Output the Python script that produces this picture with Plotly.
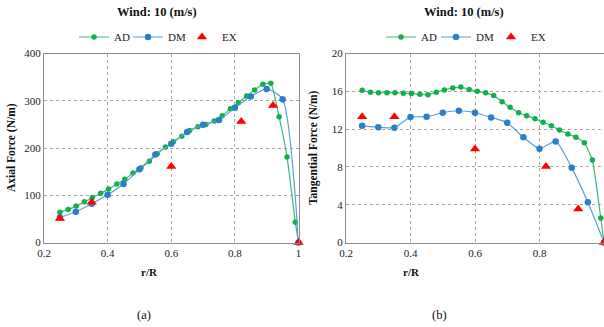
import plotly.graph_objects as go

# ---------------- data ----------------
r_ad = [0.25, 0.276, 0.301, 0.327, 0.352, 0.378, 0.403, 0.429, 0.454, 0.48,
        0.505, 0.531, 0.556, 0.582, 0.607, 0.633, 0.658, 0.684, 0.709, 0.735,
        0.76, 0.786, 0.811, 0.837, 0.862, 0.888, 0.913, 0.939, 0.964, 0.99, 1.0]
axial_ad = [64, 70, 77, 86, 95, 104, 113, 124, 134, 147,
            158, 172, 188, 202, 213, 225, 237, 245, 250, 257,
            268, 283, 296, 310, 323, 335, 337, 266, 181, 43, 0]
tang_ad = [16.1, 15.9, 15.85, 15.85, 15.85, 15.8, 15.77, 15.7, 15.63, 15.9,
           16.15, 16.35, 16.45, 16.2, 16.0, 15.84, 15.56, 14.9, 14.3, 13.73,
           13.42, 13.1, 12.72, 12.36, 11.9, 11.48, 11.13, 10.56, 8.73, 2.6, 0]

r_dm = [0.25, 0.30, 0.35, 0.40, 0.45, 0.50, 0.55, 0.60, 0.65, 0.70,
        0.75, 0.80, 0.85, 0.90, 0.95, 1.0]
axial_dm = [53, 65, 82, 101, 124, 155, 186, 209, 234, 249,
            259, 285, 309, 325, 303, 0]
tang_dm = [12.35, 12.2, 12.15, 13.27, 13.3, 13.73, 13.94, 13.73, 13.24, 12.67,
           11.13, 9.93, 10.7, 7.9, 4.25, 0]

r_ex_a = [0.25, 0.35, 0.60, 0.82, 0.92, 1.0]
axial_ex = [51, 85, 161, 256, 290, 0]
r_ex_t = [0.25, 0.35, 0.60, 0.82, 0.92, 1.0]
tang_ex = [13.3, 13.3, 9.9, 8.05, 3.55, 0]

x_ticks = [0.2, 0.4, 0.6, 0.8, 1.0]
x_tick_text = ["0.2", "0.4", "0.6", "0.8", "1"]
axial_ticks = [0, 100, 200, 300, 400]
tang_ticks = [0, 4, 8, 12, 16, 20]

title_text = "Wind: 10 (m/s)"
# --------------------------------------

W, H = 604, 327
def px(x):
    return x / W
def py(y):
    return 1 - y / H

FONT = "Liberation Serif, Times New Roman, DejaVu Serif, serif"
GREEN_LINE = "#3cb878"
GREEN = "#12b04a"
BLUE = "#2a7fc9"
BLUE_LINE = "#5aa0d8"
RED = "#ff0000"

fig = go.Figure()

def add_set(xa, ya, leg, r1, v1, r2, v2, r3, v3):
    fig.add_trace(go.Scatter(x=r1, y=v1, name="AD", mode="lines+markers",
                             line=dict(color=GREEN_LINE, width=1.2, shape="spline", smoothing=0.4),
                             marker=dict(color=GREEN, size=5.5, symbol="circle"),
                             xaxis=xa, yaxis=ya, legend=leg, cliponaxis=False))
    fig.add_trace(go.Scatter(x=r2, y=v2, name="DM", mode="lines+markers",
                             line=dict(color=BLUE_LINE, width=1.2, shape="spline", smoothing=0.6),
                             marker=dict(color=BLUE, size=6.5, symbol="circle"),
                             xaxis=xa, yaxis=ya, legend=leg, cliponaxis=False))
    fig.add_trace(go.Scatter(x=r3, y=v3, name="EX", mode="markers",
                             marker=dict(color=RED, size=9, symbol="triangle-up"),
                             xaxis=xa, yaxis=ya, legend=leg, cliponaxis=False))

add_set("x", "y", "legend", r_ad, axial_ad, r_dm, axial_dm, r_ex_a, axial_ex)
add_set("x2", "y2", "legend2", r_ad, tang_ad, r_dm, tang_dm, r_ex_t, tang_ex)

y_dom = [py(242.5), py(53.5)]
axis_common = dict(showline=True, mirror=True, linecolor="#8c8c8c", linewidth=1,
                   showgrid=True, gridcolor="#a8a8a8", griddash="3px,3px", gridwidth=1,
                   zeroline=False, ticks="", automargin=False,
                   tickfont=dict(family=FONT, size=11, color="#222"))

fig.update_layout(
    width=W, height=H,
    margin=dict(l=0, r=0, t=0, b=0, autoexpand=False),
    paper_bgcolor="white", plot_bgcolor="white",
    font=dict(family=FONT, color="#222"),
    xaxis=dict(domain=[px(44), px(298.5)], range=[0.2, 1.0], tickvals=x_ticks,
               ticktext=x_tick_text, anchor="y", **axis_common),
    yaxis=dict(domain=y_dom, range=[0, 400], tickvals=axial_ticks, anchor="x", **axis_common),
    xaxis2=dict(domain=[px(346), 1.0], range=[0.2, 1.0], tickvals=x_ticks,
                ticktext=x_tick_text, anchor="y2", **axis_common),
    yaxis2=dict(domain=y_dom, range=[0, 20], tickvals=tang_ticks, anchor="x2", **axis_common),
    legend=dict(orientation="h", x=px(74), y=py(37), xanchor="left", yanchor="middle",
                font=dict(family=FONT, size=11), itemwidth=30, entrywidth=9,
                bgcolor="rgba(0,0,0,0)"),
    legend2=dict(orientation="h", x=px(381), y=py(37), xanchor="left", yanchor="middle",
                 font=dict(family=FONT, size=11), itemwidth=30, entrywidth=10,
                 bgcolor="rgba(0,0,0,0)"),
)

ann = []
def a(x, y, text, size, bold=False, angle=0):
    ann.append(dict(x=px(x), y=py(y), xref="paper", yref="paper", text=(f"<b>{text}</b>" if bold else text),
                    showarrow=False, textangle=angle, font=dict(family=FONT, size=size, color="#111"),
                    xanchor="center", yanchor="middle"))

a(157, 12, title_text, 12.5, bold=True)
a(464, 12, title_text, 12.5, bold=True)
a(11, 148, "Axial Force (N/m)", 11.5, bold=True, angle=-90)
a(313, 148, "Tangential Force (N/m)", 11.5, bold=True, angle=-90)
a(149, 272, "r/R", 11, bold=True)
a(411, 272, "r/R", 11, bold=True)
a(144, 315, "(a)", 12.5)
a(440, 315, "(b)", 12.5)
fig.update_layout(annotations=ann)

# remove the default 8px page margin so the figure fills the window exactly
fig.write_html("out.html", config={"displayModeBar": False},
               post_script="document.body.style.margin='0px';")
